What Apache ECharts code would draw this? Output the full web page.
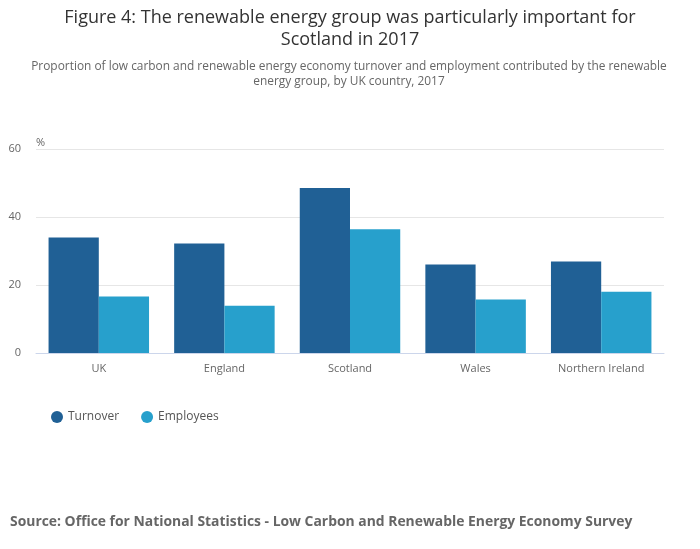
<!DOCTYPE html>
<html>
<head>
<meta charset="utf-8">
<script src="https://cdn.jsdelivr.net/npm/echarts@6/dist/echarts.min.js"></script>
<style>
  html, body { margin: 0; padding: 0; background: #fff; }
  #chart { width: 700px; height: 549px; }
</style>
</head>
<body>
<div id="chart"></div>
<script>
const countries = ['UK', 'England', 'Scotland', 'Wales', 'Northern Ireland'];
const turnover = [34.0, 32.2, 48.5, 26.0, 26.9];
const employees = [16.6, 13.9, 36.4, 15.7, 18.0];
const yTicks = [0, 20, 40, 60];

const font = '"Open Sans", "Noto Sans", sans-serif';
const chart = echarts.init(document.getElementById('chart'));

let option = {
  textStyle: { fontFamily: font },
  title: [
    {
      text: 'Figure 4: The renewable energy group was particularly important for\nScotland in 2017',
      left: 350,
      top: 7,
      padding: 0,
      textAlign: 'center',
      textStyle: { fontSize: 18, fontWeight: 'normal', color: '#333', lineHeight: 22, fontFamily: font }
    },
    {
      text: 'Proportion of low carbon and renewable energy economy turnover and employment contributed by the renewable\nenergy group, by UK country, 2017',
      left: 349,
      top: 59,
      padding: 0,
      textAlign: 'center',
      textStyle: { fontSize: 11.9, fontWeight: 'normal', color: '#666', lineHeight: 15, fontFamily: font }
    },
    {
      text: 'Source: Office for National Statistics - Low Carbon and Renewable Energy Economy Survey',
      left: 10,
      top: 515,
      padding: 0,
      textStyle: { fontSize: 13.9, fontWeight: 'bold', color: '#666', fontFamily: font }
    }
  ],
  legend: {
    left: 46,
    top: 406,
    icon: 'circle',
    itemWidth: 12,
    itemHeight: 12,
    itemGap: 22,
    textStyle: { fontSize: 12, color: '#555', fontFamily: font }
  },
  grid: { left: 36, right: 36, top: 149, bottom: 196, containLabel: false },
  xAxis: {
    type: 'category',
    data: countries,
    axisLine: { lineStyle: { color: '#ccd6eb' } },
    axisTick: { length: 10, lineStyle: { color: '#ccd6eb' } },
    axisLabel: { color: '#666', fontSize: 11, margin: 10 }
  },
  yAxis: {
    type: 'value',
    min: yTicks[0],
    max: yTicks[yTicks.length - 1],
    interval: 20,
    name: '%',
    nameLocation: 'end',
    nameGap: 1,
    nameTextStyle: { color: '#666', fontSize: 11, align: 'left' },
    axisLine: { show: false },
    axisTick: { show: false },
    axisLabel: { color: '#666', fontSize: 11, margin: 15 },
    splitLine: { lineStyle: { color: '#e6e6e6' } }
  },
  series: [
    {
      name: 'Turnover',
      type: 'bar',
      data: turnover,
      barGap: '0%',
      barCategoryGap: '20%',
      itemStyle: { color: '#206095' }
    },
    {
      name: 'Employees',
      type: 'bar',
      data: employees,
      itemStyle: { color: '#27a0cc' }
    }
  ]
};
chart.setOption(option);
</script>
</body>
</html>
